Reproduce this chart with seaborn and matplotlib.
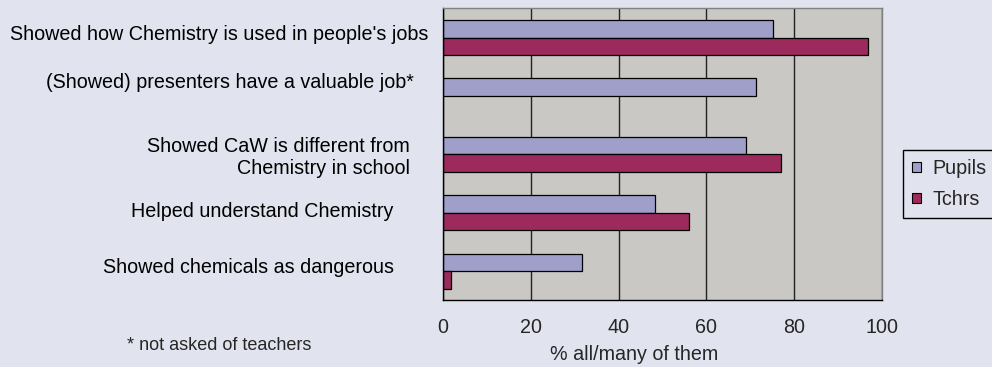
import numpy as np
import pandas as pd
import matplotlib
matplotlib.use("Agg")
import matplotlib.pyplot as plt
from matplotlib.patches import Patch
import seaborn as sns

# ---- data ----
items = [
    "Showed how Chemistry is used in people's jobs",
    "(Showed) presenters have a valuable job*",
    "Showed CaW is different from\nChemistry in school",
    "Helped understand Chemistry",
    "Showed chemicals as dangerous",
]
pupils = [75.2, 71.3, 69.1, 48.4, 31.7]
tchrs = [96.7, np.nan, 77.1, 56.1, 1.8]
series_names = ["Pupils", "Tchrs"]
x_ticks = [0, 20, 40, 60, 80, 100]
x_label = "% all/many of them"
footnote = "* not asked of teachers"

# ---- style ----
BG = "#E1E4EE"
PLOT_BG = "#C9C8C4"
COLORS = ["#A09FCA", "#9C2A5C"]
FS = 14.2

sns.set_style("white")
plt.rcParams["font.family"] = ["Liberation Sans", "DejaVu Sans"]

rows = []
for it, p, t in zip(items, pupils, tchrs):
    rows.append({"item": it, "group": series_names[0], "value": p})
    if not np.isnan(t):
        rows.append({"item": it, "group": series_names[1], "value": t})
df = pd.DataFrame(rows)

fig = plt.figure(figsize=(9.92, 3.67), dpi=100, facecolor=BG)
ax = fig.add_axes([443 / 992, 1 - 300.3 / 367, (882 - 443) / 992, (300.3 - 8.3) / 367])
ax.set_facecolor(PLOT_BG)

sns.barplot(data=df, y="item", x="value", hue="group", order=items,
            hue_order=series_names, palette=COLORS, orient="h", width=0.6,
            edgecolor="black", linewidth=0.9, saturation=1, ax=ax, legend=False)

ax.set_xlim(0, 100)
ax.set_ylim(len(items) - 0.5, -0.5)
ax.set_xticks(x_ticks)
ax.set_xticklabels([str(v) for v in x_ticks], fontsize=FS)
ax.tick_params(axis="x", direction="out", length=6, width=1, color="black", pad=7)
ax.set_xlabel("")
ax.set_ylabel("")

# y ticks between categories, no labels (labels drawn separately)
ax.set_yticks(range(len(items)))
ax.set_yticklabels([])
ax.tick_params(axis="y", which="major", length=0)
ax.set_yticks(np.arange(-0.5, len(items), 1.0), minor=True)
ax.tick_params(axis="y", which="minor", direction="out", length=5, width=1, color="black")

ax.grid(axis="x", color="#222222", linewidth=1)
ax.grid(axis="y", visible=False)
ax.set_axisbelow(True)

for side in ["left", "bottom"]:
    ax.spines[side].set_color("black")
    ax.spines[side].set_linewidth(1)
for side in ["top", "right"]:
    ax.spines[side].set_color("#808080")
    ax.spines[side].set_linewidth(1)

# category labels (Excel-like placement)
label_dx = [15, 29, 33, 50, 49]        # pixels left of axis
label_dy = [3, 13, -3, 1, 3.5]          # pixels up
ytrans = ax.get_yaxis_transform()
for i, it in enumerate(items):
    ax.annotate(it, xy=(0, i), xycoords=ytrans,
                xytext=(-label_dx[i], label_dy[i]), textcoords="offset pixels",
                ha="right", va="center", multialignment="right",
                fontsize=FS, linespacing=1.2, color="black")

fig.text(634 / 992, 1 - 360 / 367, x_label, ha="center", va="baseline", fontsize=FS)
fig.text(127 / 992, 1 - 350 / 367, footnote, ha="left", va="baseline", fontsize=13)

handles = [Patch(facecolor=c, edgecolor="black", linewidth=0.8) for c in COLORS]
leg = fig.legend(handles, series_names, loc="center left",
                 bbox_to_anchor=(903 / 992, 1 - 184 / 367),
                 fontsize=FS, frameon=True, fancybox=False, shadow=False,
                 framealpha=1, facecolor=BG, edgecolor="black",
                 handlelength=0.45, handleheight=0.45, handletextpad=0.6,
                 labelspacing=0.6, borderpad=0.45, borderaxespad=0)
leg.get_frame().set_linewidth(1)

fig.savefig("out.png", dpi=100, facecolor=BG)
